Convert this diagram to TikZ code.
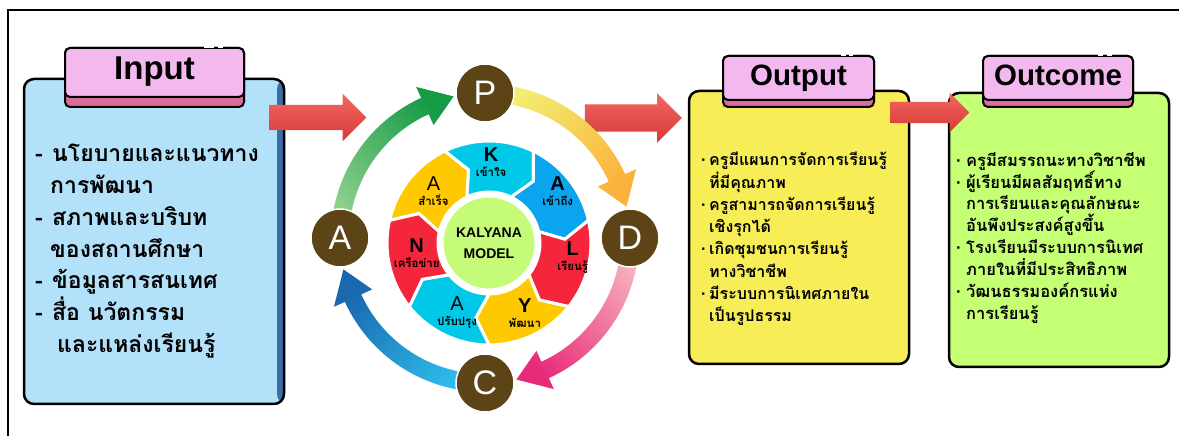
\documentclass[tikz,border=0pt]{standalone}
\usepackage{fontspec}
\setmainfont{Liberation Sans}
\newfontfamily\thaifont[Script=Thai]{Loma}
\usetikzlibrary{shapes.arrows}

\definecolor{inblue}{HTML}{B3E1F9}
\definecolor{inside}{HTML}{3A6DA6}
\definecolor{outyel}{HTML}{F7EE57}
\definecolor{ocgreen}{HTML}{C5FF74}
\definecolor{tabpink}{HTML}{F3B9EF}
\definecolor{tabrose}{HTML}{D96C9B}
\definecolor{arrtop}{HTML}{F4665F}
\definecolor{arrbot}{HTML}{D43B39}
\definecolor{pdcabrown}{HTML}{5C4417}
\definecolor{grnA}{HTML}{8DD08C}
\definecolor{grnB}{HTML}{169A46}
\definecolor{ylwA}{HTML}{F1EF72}
\definecolor{ylwB}{HTML}{FBB23C}
\definecolor{pnkA}{HTML}{F6AFBB}
\definecolor{pnkB}{HTML}{E82A78}
\definecolor{bluA}{HTML}{2EBDEB}
\definecolor{bluB}{HTML}{1A68AE}
\definecolor{segcyan}{HTML}{00C9E8}
\definecolor{segblue}{HTML}{0AA5EE}
\definecolor{segred}{HTML}{F5263C}
\definecolor{seggold}{HTML}{FFC900}
\definecolor{hubgreen}{HTML}{C6FB7A}

\newcommand{\inbul}{\makebox[17pt][l]{-}}
\newcommand{\outbul}{\makebox[8pt][l]{\rmfamily ·}}
\newcommand{\ocbul}{\makebox[10pt][l]{\rmfamily ·}}
\newcommand{\seglet}[1]{{\bfseries\fontsize{20}{20}\selectfont #1}}
\newcommand{\segreg}[1]{{\fontsize{20}{20}\selectfont #1}}
\newcommand{\segth}[1]{{\thaifont\bfseries\fontsize{11.5}{13}\selectfont #1}}

\tikzset{
  body/.style={draw=black, line width=2.5pt, rounded corners=10pt, inner sep=0pt},
  tabbase/.style={draw=black, line width=2pt, rounded corners=5pt, fill=tabrose, inner sep=0pt},
  tabtop/.style={draw=black, line width=2pt, rounded corners=5pt, fill=tabpink, inner sep=0pt,
    font=\bfseries, text height=21pt, text depth=6pt},
  glint/.style={white, line width=2.2pt},
  redarrow/.style={single arrow, draw=none, top color=arrtop, bottom color=arrbot, inner xsep=0pt},
  pdca/.style={circle, fill=pdcabrown, draw=white, line width=1.5pt, minimum size=58pt,
    inner sep=0pt, text=white, font=\fontsize{34}{34}\selectfont},
  seglbl/.style={align=center, inner sep=0pt},
  thaitxt/.style={align=left, inner sep=0pt, anchor=north west},
}

\begin{document}
\begin{tikzpicture}[x=1pt, y=1pt]
\useasboundingbox (0,0) rectangle (1179,436);
\draw[line width=1.5pt] (8,0) -- (8,426) -- (1179,426);

% boxes
\node[body, fill=inblue, minimum width=260pt, minimum height=325pt,
  path picture={\fill[inside] ([xshift=-7pt]path picture bounding box.north east) rectangle (path picture bounding box.south east);}]
  (inbox) at (154,194.5) {};
\node[body, fill=outyel, minimum width=220pt, minimum height=273pt] (outbox) at (799,208.5) {};
\node[body, fill=ocgreen, minimum width=220pt, minimum height=274pt] (ocbox) at (1059,206) {};

% tabs
\node[tabbase, minimum width=179pt, minimum height=59pt] (intabB) at (154.5,358.5) {};
\node[tabtop, minimum width=179pt, minimum height=49pt, font=\bfseries\fontsize{33}{33}\selectfont] (intab) at (154.5,363.5) {Input};
\node[tabbase, minimum width=151pt, minimum height=51pt] (outtabB) at (798.5,354.5) {};
\node[tabtop, minimum width=151pt, minimum height=44pt, font=\bfseries\fontsize{29.5}{30}\selectfont] (outtab) at (798.5,358) {Output};
\node[tabbase, minimum width=150pt, minimum height=51pt] (octabB) at (1058,354.5) {};
\node[tabtop, minimum width=150pt, minimum height=44pt, font=\bfseries\fontsize{29.5}{30}\selectfont] (octab) at (1058,358) {Outcome};
\draw[glint] ([xshift=49pt]intab.north) -- ++(10pt,0) ([xshift=63pt]intab.north) -- ++(5pt,0);
\draw[glint] ([xshift=42pt]outtab.north) -- ++(5pt,0) ([xshift=50pt]outtab.north) -- ++(4pt,0);
\draw[glint] ([xshift=40pt]octab.north) -- ++(5pt,0) ([xshift=49pt]octab.north) -- ++(5pt,0);

% texts
\node[thaitxt, font=\thaifont\bfseries\fontsize{23}{31.8}\selectfont] (intxt) at (35,292) {%
\inbul นโยบายและแนวทาง\\
\hspace*{15pt}การพัฒนา\\
\inbul สภาพและบริบท\\
\hspace*{15pt}ของสถานศึกษา\\
\inbul ข้อมูลสารสนเทศ\\
\inbul สื่อ นวัตกรรม\\
\hspace*{22pt}และแหล่งเรียนรู้};
\node[thaitxt, font=\thaifont\bfseries\fontsize{16}{22.3}\selectfont] (outtxt) at (701,284) {%
\outbul ครูมีแผนการจัดการเรียนรู้\\
\hspace*{8pt}ที่มีคุณภาพ\\
\outbul ครูสามารถจัดการเรียนรู้\\
\hspace*{8pt}เชิงรุกได้\\
\outbul เกิดชุมชนการเรียนรู้\\
\hspace*{8pt}ทางวิชาชีพ\\
\outbul มีระบบการนิเทศภายใน\\
\hspace*{8pt}เป็นรูปธรรม};
\node[thaitxt, font=\thaifont\bfseries\fontsize{16.5}{21.9}\selectfont] (octxt) at (956,284) {%
\ocbul ครูมีสมรรถนะทางวิชาชีพ\\
\ocbul ผู้เรียนมีผลสัมฤทธิ์ทาง\\
\hspace*{10pt}การเรียนและคุณลักษณะ\\
\hspace*{10pt}อันพึงประสงค์สูงขึ้น\\
\ocbul โรงเรียนมีระบบการนิเทศ\\
\hspace*{10pt}ภายในที่มีประสิทธิภาพ\\
\ocbul วัฒนธรรมองค์กรแห่ง\\
\hspace*{10pt}การเรียนรู้};

% block arrows
\node[redarrow, minimum height=97pt, inner ysep=12.5pt, single arrow head extend=11pt] (arrIn) at (311.5,318.5) {};
\node[redarrow, minimum height=97pt, inner ysep=13.5pt, single arrow head extend=11pt] (arrOut) at (626.5,318) {};
\node[redarrow, minimum height=79pt, inner ysep=10.5pt, single arrow head extend=9pt] (arrOc) at (924.5,323.5) {};

% PDCA ring
\coordinate (rc) at (485,198);
\begin{scope}[shift={(rc)}]
\foreach \a/\ca/\cb/\sa in {180/grnB/grnA/-45, 90/ylwA/ylwB/45, 0/pnkA/pnkB/-45, -90/bluB/bluA/45}{
  \pgfmathsetmacro\arcB{\a-65.5}
  \pgfmathsetmacro\arcT{\a-77.5}
  \shade[top color=\ca, bottom color=\cb, shading angle=\sa]
    (\a:154) arc[start angle=\a, end angle=\arcB, radius=154] -- (\arcB:166) -- (\arcT:145)
    -- (\arcB:124) -- (\arcB:136) arc[start angle=\arcB, end angle=\a, radius=136] -- cycle;
}
\end{scope}

% KALYANA wheel
\coordinate (wc) at (489,193);
\begin{scope}[shift={(wc)}]
\foreach \c/\col in {90/segcyan, 38.57/segblue, -12.86/segred, -64.29/seggold, -115.71/segcyan, -167.14/segred, 141.43/seggold}{
  \pgfmathsetmacro\segA{\c+25.71}
  \pgfmathsetmacro\segB{\c-25.71}
  \filldraw[fill=\col, draw=white, line width=3pt] (\segA:102) arc[start angle=\segA, end angle=\segB, radius=102]
    -- ({\segB-10}:76) -- (\segB:51) arc[start angle=\segB, end angle=\segA, radius=51] -- ({\segA-10}:76) -- cycle;
}
\end{scope}
\node[circle, fill=hubgreen, draw=white, line width=3pt, minimum size=94pt, inner sep=0pt, align=center,
  font=\bfseries\fontsize{14}{21}\selectfont] (hub) at (wc) {KALYANA\\MODEL};
\node[seglbl] (lblK) at ([shift={(88.5:81)}]wc) {\seglet{K}\\[3pt]\segth{เข้าใจ}};
\node[seglbl] (lblA1) at ([shift={(37:86)}]wc) {\seglet{A}\\[3pt]\segth{เข้าถึง}};
\node[seglbl] (lblL) at ([shift={(-10:85)}]wc) {\seglet{L}\\[3pt]\segth{เรียนรู้}};
\node[seglbl] (lblY) at ([shift={(-63:79)}]wc) {\seglet{Y}\\[3pt]\segth{พัฒนา}};
\node[seglbl] (lblA2) at ([shift={(-114.5:77)}]wc) {\segreg{A}\\[3pt]\segth{ปรับปรุง}};
\node[seglbl] (lblN) at ([shift={(-172:73)}]wc) {\seglet{N}\\[3pt]\segth{เครือข่าย}};
\node[seglbl] (lblA3) at ([shift={(137:76)}]wc) {\segreg{A}\\[3pt]\segth{สำเร็จ}};

% PDCA circles
\node[pdca] (cycP) at ([shift={(90:145)}]rc) {P};
\node[pdca] (cycD) at ([shift={(0:145)}]rc) {D};
\node[pdca] (cycC) at ([shift={(-90:145)}]rc) {C};
\node[pdca] (cycA) at ([shift={(180:145)}]rc) {A};
\end{tikzpicture}
\end{document}
